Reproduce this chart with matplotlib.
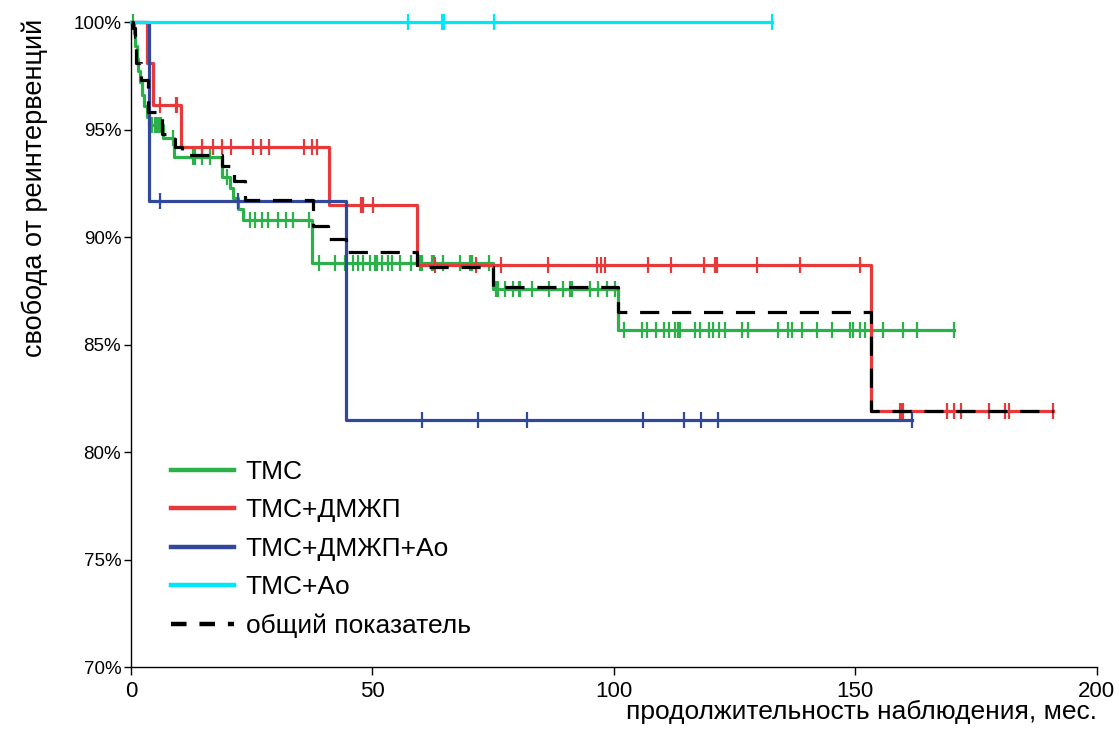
import matplotlib
matplotlib.use("Agg")
import matplotlib.pyplot as plt
import numpy as np
from matplotlib.lines import Line2D

# ТМС (green)
tms_event_t = [0.6, 0.9, 1.2, 1.5, 1.9, 2.3, 2.8, 3.3, 3.8, 6.6, 8.9, 18.8, 20.5, 21.1, 22.2, 23.2, 37.6, 74.9, 100.9]
tms_event_s = [99.5, 98.9, 98.3, 97.7, 97.2, 96.6, 96.1, 95.6, 95.2, 94.6, 93.7, 92.8, 92.3, 91.8, 91.3, 90.8, 88.8, 87.6, 85.7]
tms_censor_t = [0.4, 4.4, 4.9, 5.4, 5.9, 6.3, 8.7, 12.8, 13.2, 14.7, 16.4, 19.9,
                24.6, 25.8, 27.2, 28.4, 30.4, 32.2, 33.6, 36.9,
                39.0, 42.2, 44.3, 46.0, 47.0, 48.0, 49.5, 50.6, 51.0, 52.1, 53.3, 54.0, 55.7, 58.1,
                59.8, 60.2, 62.3, 62.7, 64.6, 68.1, 70.3, 70.7, 74.1,
                75.6, 76.0, 77.4, 79.1, 80.3, 80.6, 83.0, 86.6, 89.4, 91.0, 91.4, 95.0, 96.7, 98.5, 100.3,
                102.2, 105.8, 106.8, 108.8, 110.4, 111.4, 112.7, 113.2, 113.7, 116.8, 117.8, 119.7,
                120.5, 121.7, 123.0, 126.5, 127.7, 134.1, 136.0, 137.0, 139.0, 142.0, 145.1, 149.0,
                149.5, 150.9, 152.0, 155.7, 159.8, 162.9, 170.4]
tms_end = 170.4

# ТМС+ДМЖП (red)
vsd_event_t = [3.3, 4.5, 10.4, 41.0, 59.2, 153.2]
vsd_event_s = [98.1, 96.15, 94.2, 91.5, 88.7, 81.9]
vsd_censor_t = [6.0, 9.3, 9.6, 14.7, 17.0, 18.8, 20.7, 25.3, 26.9, 28.6, 35.8, 37.4, 38.5,
                47.6, 48.0, 50.1,
                62.9, 71.4, 76.6, 86.3, 96.5, 97.3, 98.1, 107.0, 111.8, 118.6, 121.0, 121.3, 129.6, 138.5, 150.9,
                159.2, 159.6, 160.0, 169.0, 170.4, 172.0, 177.8, 181.1, 181.8, 190.9]
vsd_end = 190.9

# ТМС+ДМЖП+Ао (blue)
vsd_ao_event_t = [3.8, 44.5]
vsd_ao_event_s = [91.67, 81.48]
vsd_ao_censor_t = [6.0, 22.2, 60.2, 71.8, 82.0, 106.0, 114.5, 118.0, 121.5, 161.7]
vsd_ao_end = 161.7

# ТМС+Ао (cyan)
ao_event_t = []
ao_event_s = []
ao_censor_t = [57.3, 64.4, 64.8, 75.2, 132.7]
ao_end = 132.7

# общий показатель (black dashed)
all_event_t = [0.5, 0.8, 1.0, 2.1, 3.6, 6.4, 9.1, 10.5, 18.8, 21.3, 23.6, 37.7, 40.8, 44.6, 59.2, 74.9, 100.9, 153.2]
all_event_s = [99.7, 99.3, 98.1, 97.3, 95.8, 94.8, 94.2, 93.8, 93.3, 92.6, 91.7, 90.5, 89.9, 89.3, 88.6, 87.7, 86.5, 81.9]
all_end = 190.9

labels = ["ТМС", "ТМС+ДМЖП", "ТМС+ДМЖП+Ао", "ТМС+Ао", "общий показатель"]
colors = ["#2bb04a", "#e8393a", "#32489b", "#00e8f8", "#000000"]
y_ticks = [70, 75, 80, 85, 90, 95, 100]
x_ticks = [0, 50, 100, 150, 200]

narrow = ["Liberation Sans Narrow", "Liberation Sans"]


def step_curve(event_t, event_s, end):
    x = np.array([0.0] + list(event_t) + [end])
    y = np.array([100.0] + list(event_s) + [event_s[-1] if event_s else 100.0])
    return x, y


def value_at(event_t, event_s, t):
    x = np.array(event_t)
    s = np.array([100.0] + list(event_s))
    return s[np.searchsorted(x, np.array(t), side="right")]


plt.rcParams["font.family"] = ["Liberation Sans", "DejaVu Sans"]
fig = plt.figure(figsize=(11.19, 7.47), dpi=100)
ax = fig.add_axes([0.117, 0.107, 0.863, 0.8635])

groups = [
    (tms_event_t, tms_event_s, tms_censor_t, tms_end, 0, 2),
    (vsd_event_t, vsd_event_s, vsd_censor_t, vsd_end, 1, 3),
    (vsd_ao_event_t, vsd_ao_event_s, vsd_ao_censor_t, vsd_ao_end, 2, 4),
    (ao_event_t, ao_event_s, ao_censor_t, ao_end, 3, 5),
]
for ev_t, ev_s, cen_t, end, ci, z in groups:
    x, y = step_curve(ev_t, ev_s, end)
    ax.step(x, y, where="post", color=colors[ci], lw=2.3, zorder=z, clip_on=False)
    ax.plot(cen_t, value_at(ev_t, ev_s, cen_t), ls="none", marker="|", ms=11.5, mew=1.6,
            color=colors[ci], zorder=z, clip_on=False)

x, y = step_curve(all_event_t, all_event_s, all_end)
ax.step(x, y, where="post", color="black", lw=2.3, dashes=(6, 4), zorder=6, clip_on=False)

ax.set_xlim(0, 200)
ax.set_ylim(70, 100)
ax.set_xticks(x_ticks)
ax.set_yticks(y_ticks)
ax.set_yticklabels([f"{v}%" for v in y_ticks], fontsize=13.5)
ax.set_xticklabels([str(v) for v in x_ticks], fontsize=16, family=narrow)
for s in ["top", "right"]:
    ax.spines[s].set_visible(False)
for s in ["left", "bottom"]:
    ax.spines[s].set_linewidth(1.0)
ax.tick_params(axis="x", direction="out", length=6, width=1.0, pad=4)
ax.tick_params(axis="y", direction="out", length=5, width=1.0, pad=2)

fig.text(0.031, 0.975, "свобода от реинтервенций", rotation=90, ha="center", va="top",
         fontsize=19.5)
fig.text(0.980, 0.047, "продолжительность наблюдения, мес.", ha="right", va="center",
         fontsize=19, family=narrow)

handles = [Line2D([], [], color=c, lw=3.2) for c in colors[:4]]
handles.append(Line2D([], [], color="black", lw=3.2, dashes=(3.5, 2.9)))
ax.legend(handles, labels, loc="upper left", bbox_to_anchor=(0.143, 0.398),
          bbox_transform=fig.transFigure, frameon=False, fontsize=19,
          handlelength=2.4, handletextpad=0.45, labelspacing=0.54, borderaxespad=0)

fig.savefig("out.png", dpi=100)
